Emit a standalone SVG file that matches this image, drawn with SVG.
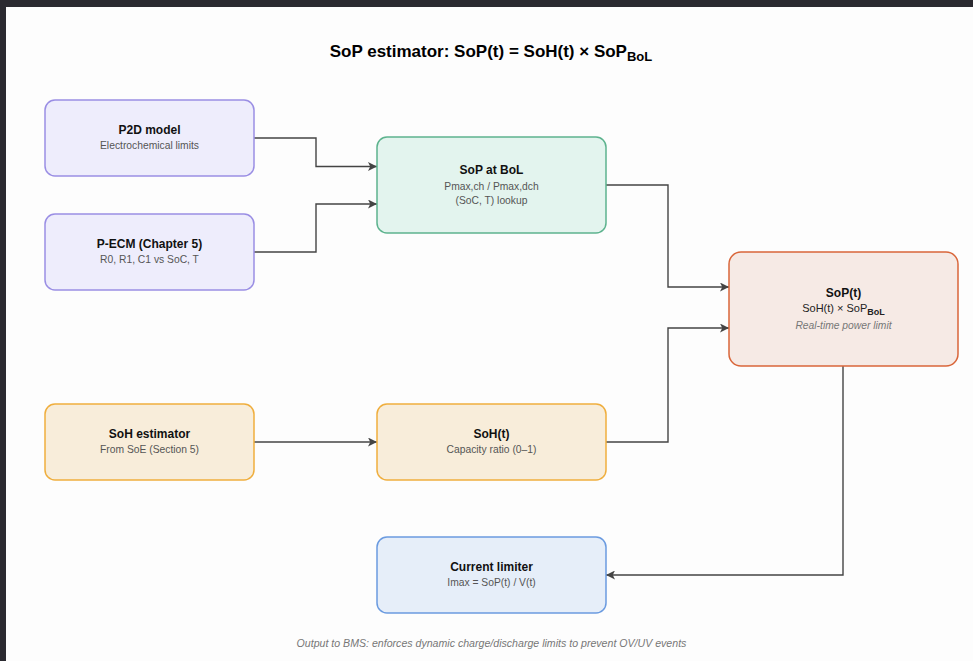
<svg xmlns="http://www.w3.org/2000/svg" width="973" height="661" viewBox="0 0 973 661">
<defs>
<style>
.t{font-family:"Liberation Sans",Arial,sans-serif;font-weight:bold;font-size:12px;fill:#111;text-anchor:middle}
.s{font-family:"Liberation Sans",Arial,sans-serif;font-size:10.3px;fill:#555;text-anchor:middle}
.i{font-family:"Liberation Sans",Arial,sans-serif;font-size:10.3px;font-style:italic;fill:#777;text-anchor:middle}
.purple{fill:#EEEDFC;stroke:#9A8EE4;stroke-width:1.5}
.green{fill:#E3F4EE;stroke:#5DB38E;stroke-width:1.5}
.orange{fill:#F6EAE5;stroke:#D9663A;stroke-width:1.5}
.yellow{fill:#F8EDDA;stroke:#EFAE3E;stroke-width:1.5}
.blue{fill:#E6EEF9;stroke:#6B9BE0;stroke-width:1.5}
.c{fill:none;stroke:#444;stroke-width:1.4;marker-end:url(#ah)}
</style>
<marker id="ah" viewBox="0 0 10 10" refX="10" refY="5" markerWidth="9" markerHeight="9" markerUnits="userSpaceOnUse" orient="auto">
<path d="M0,0 L10,5 L0,10 L2.5,5 z" fill="#444"/>
</marker>
</defs>
<rect x="0" y="0" width="973" height="661" fill="#fdfdfd"/>
<rect x="0" y="0" width="973" height="7" fill="#2b2a30"/>
<rect x="0" y="0" width="6" height="661" fill="#2b2a30"/>

<text x="491" y="57" style="font-family:'Liberation Sans',Arial,sans-serif;font-weight:bold;font-size:17px;fill:#000;text-anchor:middle">SoP estimator: SoP(t) = SoH(t) × SoP<tspan dy="4" font-size="13">BoL</tspan></text>

<g id="connectors">
<path class="c" d="M254,138 H316 V166.5 H377"/>
<path class="c" d="M254,252 H316 V204 H377"/>
<path class="c" d="M606,185 H668 V287 H729"/>
<path class="c" d="M606,442 H668 V328 H729"/>
<path class="c" d="M254,442 H377"/>
<path class="c" d="M843,366 V575 H606"/>
</g>

<g id="p2d">
<rect class="purple" x="45" y="100" width="209" height="76" rx="10"/>
<text class="t" x="149.5" y="134">P2D model</text>
<text class="s" x="149.5" y="149">Electrochemical limits</text>
</g>
<g id="pecm">
<rect class="purple" x="45" y="214" width="209" height="76" rx="10"/>
<text class="t" x="149.5" y="248">P-ECM (Chapter 5)</text>
<text class="s" x="149.5" y="263">R0, R1, C1 vs SoC, T</text>
</g>
<g id="sopbol">
<rect class="green" x="377" y="137" width="229" height="96" rx="10"/>
<text class="t" x="491.5" y="174">SoP at BoL</text>
<text class="s" x="491.5" y="189.5">Pmax,ch / Pmax,dch</text>
<text class="s" x="491.5" y="204">(SoC, T) lookup</text>
</g>
<g id="sopt">
<rect class="orange" x="729" y="252" width="229" height="114" rx="12"/>
<text class="t" x="843.5" y="297">SoP(t)</text>
<text x="843.5" y="311.5" style="font-family:'Liberation Sans',Arial,sans-serif;font-size:11px;fill:#222;text-anchor:middle">SoH(t) × SoP<tspan dy="3" font-size="9" font-weight="bold">BoL</tspan></text>
<text class="i" x="843.5" y="328.5">Real-time power limit</text>
</g>
<g id="sohest">
<rect class="yellow" x="45" y="404" width="209" height="76" rx="10"/>
<text class="t" x="149.5" y="438">SoH estimator</text>
<text class="s" x="149.5" y="453">From SoE (Section 5)</text>
</g>
<g id="soht">
<rect class="yellow" x="377" y="404" width="229" height="76" rx="10"/>
<text class="t" x="491.5" y="438">SoH(t)</text>
<text class="s" x="491.5" y="453">Capacity ratio (0–1)</text>
</g>
<g id="limiter">
<rect class="blue" x="377" y="537" width="229" height="76" rx="10"/>
<text class="t" x="491.5" y="571">Current limiter</text>
<text class="s" x="491.5" y="586">Imax = SoP(t) / V(t)</text>
</g>
<text class="i" x="491.5" y="647" style="font-size:10.6px">Output to BMS: enforces dynamic charge/discharge limits to prevent OV/UV events</text>
</svg>
